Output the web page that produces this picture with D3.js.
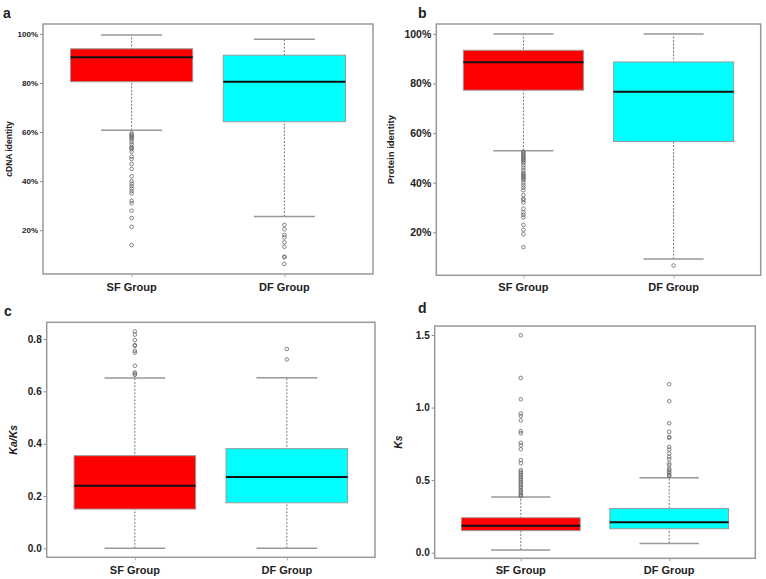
<!DOCTYPE html>
<html><head><meta charset="utf-8">
<script src="https://cdn.jsdelivr.net/npm/d3@7"></script>
<style>body{margin:0;background:#fff}svg{display:block}</style>
</head><body>
<svg id="c" width="766" height="579"></svg>
<script>
// ---- data ----
const groups = ["SF Group", "DF Group"];
const fills = ["#FF0000", "#00FFFF"];
// [lower whisker, Q1, median, Q3, upper whisker]
const cdnaStats = [[60.7, 80.5, 90.5, 93.9, 99.5], [25.6, 64.2, 80.5, 91.3, 97.8]];
const cdnaOutSF = [59.5, 59, 58.5, 58, 57.5, 57, 56, 55, 54, 53.5, 53, 52, 50, 49, 47, 45, 42, 40, 39, 38, 37, 36, 35, 32, 31, 28, 25, 21.4, 14];
const cdnaOutDF = [22.2, 20.4, 18.1, 17.1, 15.1, 13.3, 9.3, 9.0, 6.3];
const protStats = [[52.9, 77.3, 88.6, 93.4, 100], [9.2, 56.6, 76.7, 88.7, 100]];
const protOutSF = [52.5, 52, 51.5, 51, 50.5, 50, 49.5, 49, 48.5, 48, 47, 46, 45, 44, 43.5, 43, 42.5, 42, 41.5, 41, 40, 39, 38, 37, 35, 33.5, 33, 32, 29.5, 28, 27, 26, 23, 21, 19.2, 14];
const protOutDF = [6.6];
const kakaStats = [[0.0, 0.150, 0.239, 0.354, 0.651], [0.0, 0.174, 0.273, 0.381, 0.652]];
const kakaOutSF = [0.663, 0.668, 0.672, 0.698, 0.748, 0.755, 0.774, 0.777, 0.796, 0.817, 0.829];
const kakaOutDF = [0.722, 0.762];
const ksStats = [[0.019, 0.152, 0.186, 0.241, 0.384], [0.064, 0.165, 0.209, 0.305, 0.516]];
const ksOutSF = [1.498, 1.204, 1.057, 0.959, 0.943, 0.911, 0.837, 0.823, 0.757, 0.739, 0.713, 0.638, 0.617, 0.569, 0.557, 0.546, 0.534, 0.523, 0.511, 0.5, 0.489, 0.477, 0.466, 0.454, 0.443, 0.431, 0.42, 0.408, 0.397, 0.39];
const ksOutDF = [1.161, 1.044, 0.892, 0.833, 0.798, 0.791, 0.729, 0.711, 0.683, 0.661, 0.644, 0.615, 0.603, 0.58, 0.569, 0.557, 0.546, 0.534, 0.528];
const pctTicks = [20, 40, 60, 80, 100];
const kakaTicks = [0, 0.2, 0.4, 0.6, 0.8];
const ksTicks = [0, 0.5, 1.0, 1.5];
const panelLetters = ["a", "b", "c", "d"];
const yTitles = ["cDNA identity", "Protein identity", "Ka/Ks", "Ks"];

// ---- layout ----
const panels = [
  {stats: cdnaStats, outs: [cdnaOutSF, cdnaOutDF], ticks: pctTicks, fmt: d => d + "%",
   x0: 43, x1: 373, y0: 24, y1: 274, dom: [2.2, 104], tickFs: 8, titleFs: 8.5, italic: false,
   titleX: 9, letterX: 3, letterY: 18, groupY: 291},
  {stats: protStats, outs: [protOutSF, protOutDF], ticks: pctTicks, fmt: d => d + "%",
   x0: 436.3, x1: 760.7, y0: 24, y1: 275.3, dom: [2.65, 104], tickFs: 10.5, titleFs: 9.5, italic: false,
   titleX: 390, letterX: 418, letterY: 18, groupY: 291},
  {stats: kakaStats, outs: [kakaOutSF, kakaOutDF], ticks: kakaTicks, fmt: d3.format(".1f"),
   x0: 46.7, x1: 375, y0: 322.3, y1: 557.3, dom: [-0.0344, 0.864], tickFs: 10, titleFs: 10.5, italic: true,
   titleX: 13, letterX: 4, letterY: 316, groupY: 574},
  {stats: ksStats, outs: [ksOutSF, ksOutDF], ticks: ksTicks, fmt: d3.format(".1f"),
   x0: 434.7, x1: 755.3, y0: 326, y1: 558.3, dom: [-0.0386, 1.562], tickFs: 10, titleFs: 10.5, italic: true,
   titleX: 398, letterX: 418, letterY: 313, groupY: 574}
];

const svg = d3.select("#c");
const font = "'Liberation Sans', Arial, sans-serif";

panels.forEach((p, pi) => {
  const g = svg.append("g");
  const x = d3.scaleLinear().domain([0.42, 2.58]).range([p.x0, p.x1]);
  const y = d3.scaleLinear().domain(p.dom).range([p.y1, p.y0]);
  const bw = 0.8, cw = 0.4;

  // y axis
  const ya = g.append("g").attr("transform", `translate(${p.x0},0)`)
    .call(d3.axisLeft(y).tickValues(p.ticks).tickFormat(p.fmt).tickSize(3).tickPadding(2));
  ya.select(".domain").remove();
  ya.selectAll("line").attr("stroke", "#888");
  ya.selectAll("text").attr("font-family", font).attr("font-weight", "bold")
    .attr("font-size", p.tickFs).attr("fill", "#222");

  // x ticks
  const xa = g.append("g").attr("transform", `translate(0,${p.y1})`)
    .call(d3.axisBottom(x).tickValues([1, 2]).tickFormat("").tickSize(3));
  xa.select(".domain").remove();
  xa.selectAll("line").attr("stroke", "#aaa");

  groups.forEach((gn, i) => {
    const c = i + 1, s = p.stats[i];
    // whisker
    g.append("line").attr("x1", x(c)).attr("x2", x(c)).attr("y1", y(s[0])).attr("y2", y(s[4]))
      .attr("stroke", "#777").attr("stroke-width", 1).attr("stroke-dasharray", "2,1.5");
    [s[0], s[4]].forEach(v => {
      g.append("line").attr("x1", x(c - cw / 2)).attr("x2", x(c + cw / 2)).attr("y1", y(v)).attr("y2", y(v))
        .attr("stroke", "#999").attr("stroke-width", 1.5);
    });
    // box
    g.append("rect").attr("x", x(c - bw / 2)).attr("width", x(c + bw / 2) - x(c - bw / 2))
      .attr("y", y(s[3])).attr("height", y(s[1]) - y(s[3]))
      .attr("fill", fills[i]).attr("stroke", "#9a9a9a").attr("stroke-width", 1);
    g.append("line").attr("x1", x(c - bw / 2)).attr("x2", x(c + bw / 2)).attr("y1", y(s[2])).attr("y2", y(s[2]))
      .attr("stroke", "#111").attr("stroke-width", 2);
    // outliers
    g.selectAll(null).data(p.outs[i]).enter().append("circle")
      .attr("cx", x(c)).attr("cy", d => y(d)).attr("r", 1.8)
      .attr("fill", "none").attr("stroke", "#666").attr("stroke-width", 0.8);
    // group label
    g.append("text").attr("x", x(c)).attr("y", p.groupY).attr("text-anchor", "middle")
      .attr("font-family", font).attr("font-weight", "bold").attr("font-size", 11).attr("fill", "#222").text(gn);
  });

  // frame
  g.append("rect").attr("x", p.x0).attr("y", p.y0).attr("width", p.x1 - p.x0).attr("height", p.y1 - p.y0)
    .attr("fill", "none").attr("stroke", "#999").attr("stroke-width", 1.5);

  // y title
  const ty = (p.y0 + p.y1) / 2;
  g.append("text").attr("transform", `translate(${p.titleX},${ty}) rotate(-90)`)
    .attr("text-anchor", "middle").attr("dominant-baseline", "central")
    .attr("font-family", font).attr("font-weight", "bold").attr("font-style", p.italic ? "italic" : "normal")
    .attr("font-size", p.titleFs).attr("fill", "#222").text(yTitles[pi]);

  // panel letter
  g.append("text").attr("x", p.letterX).attr("y", p.letterY)
    .attr("font-family", font).attr("font-weight", "bold").attr("font-size", 14).attr("fill", "#222")
    .text(panelLetters[pi]);
});
</script>
</body></html>
